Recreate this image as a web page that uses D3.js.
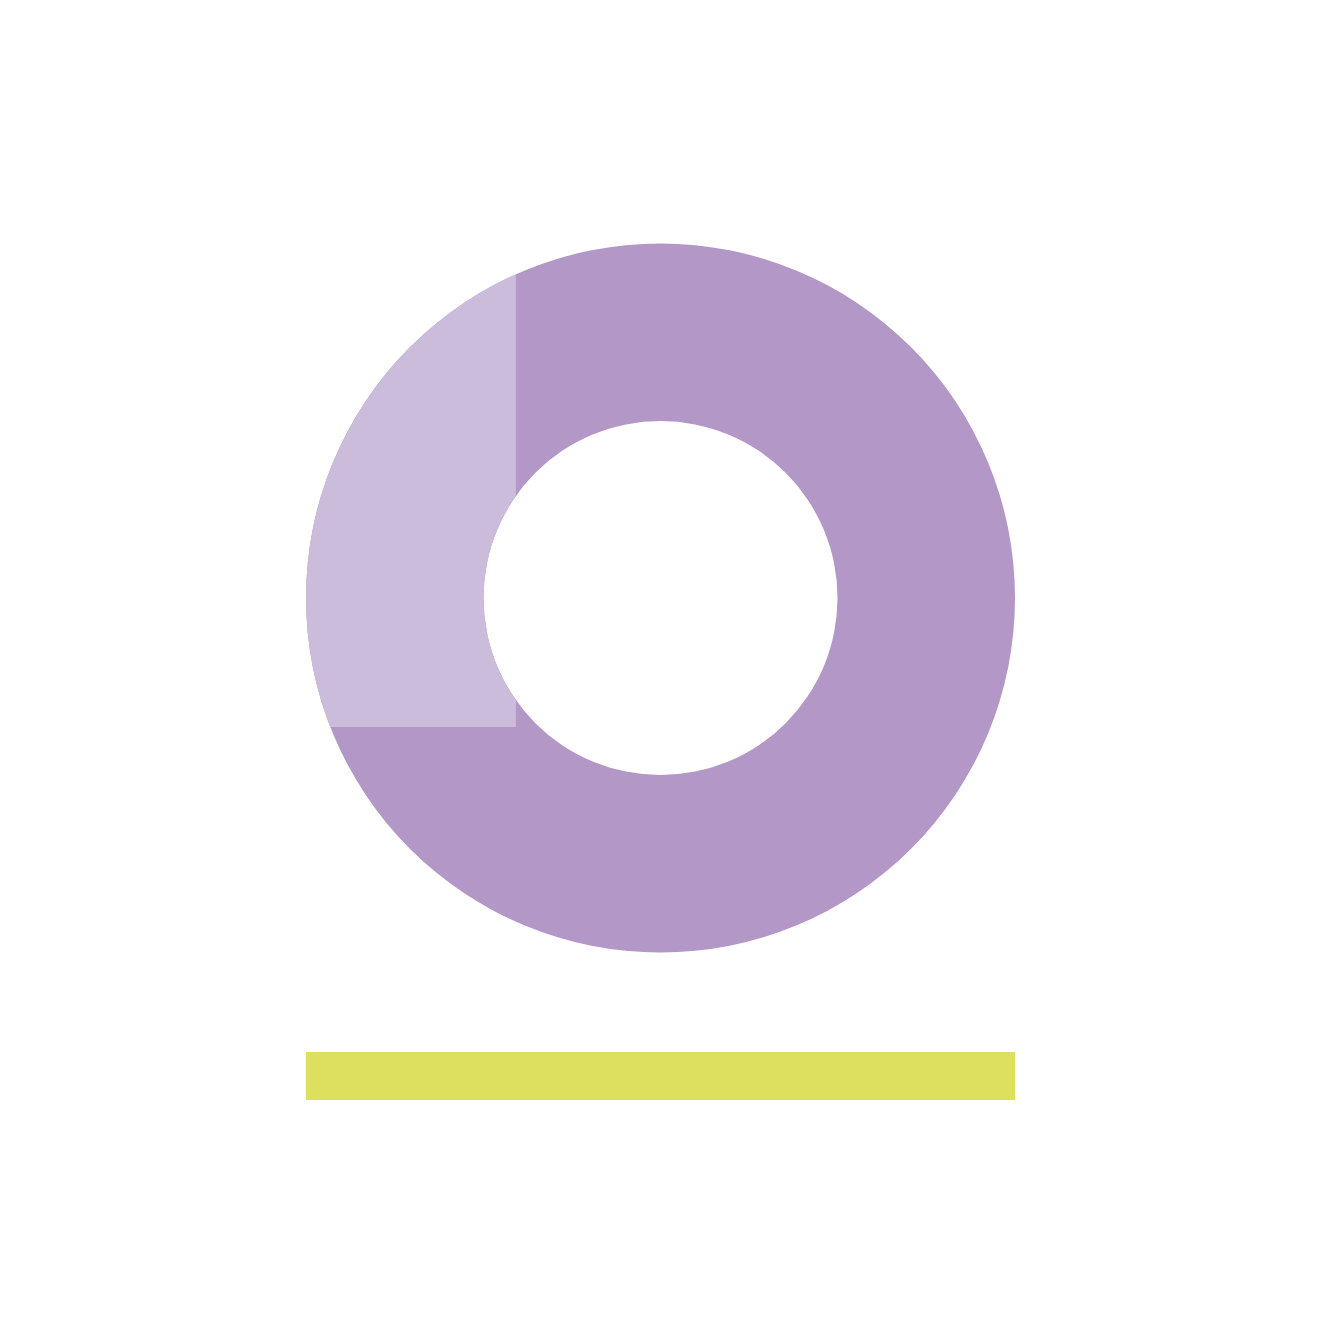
<!DOCTYPE html>
<html>
<head>
<meta charset="utf-8">
<script src="https://cdn.jsdelivr.net/npm/d3@7"></script>
<style>
  html, body { margin: 0; padding: 0; background: #fff; }
</style>
</head>
<body>
<div id="chart"></div>
<script>
// ring parts (share of the whole ring)
const ringNames = ["total"];
const ringValues = [100];

// highlighted corner, in percent of the ring's box (x from left, y from top)
const highlightX = [0, 29.6];
const highlightY = [0, 68.2];

// bar under the ring, in percent of the ring's width
const barValues = [100];

const colors = {
  ring: "#b297c7",
  highlight: "#cbbcdc",
  bar: "#dce05e",
};

const config = {
  width: 1335,
  height: 1335,
  cx: 660.5,
  cy: 598,
  outer: 354.5,
  inner: 177,
  barTop: 1052,
  barHeight: 48,
};

const svg = d3
  .select("#chart")
  .append("svg")
  .attr("width", config.width)
  .attr("height", config.height);

// scales over the ring's bounding box
const x = d3
  .scaleLinear()
  .domain([0, 100])
  .range([config.cx - config.outer, config.cx + config.outer]);
const y = d3
  .scaleLinear()
  .domain([0, 100])
  .range([config.cy - config.outer, config.cy + config.outer]);

const pie = d3.pie().sort(null).value((d) => d);
const arc = d3.arc().innerRadius(config.inner).outerRadius(config.outer);

// clip for the lighter part
svg
  .append("clipPath")
  .attr("id", "hl-clip")
  .append("rect")
  .attr("x", x(highlightX[0]))
  .attr("y", y(highlightY[0]))
  .attr("width", x(highlightX[1]) - x(highlightX[0]))
  .attr("height", y(highlightY[1]) - y(highlightY[0]));

const ring = svg
  .append("g")
  .attr("transform", `translate(${config.cx}, ${config.cy})`);

ring
  .selectAll("path.ring")
  .data(pie(ringValues))
  .join("path")
  .attr("class", "ring")
  .attr("d", arc)
  .attr("fill", colors.ring);

// same ring, lighter, only inside the corner rect
svg
  .append("g")
  .attr("clip-path", "url(#hl-clip)")
  .append("g")
  .attr("transform", `translate(${config.cx}, ${config.cy})`)
  .selectAll("path")
  .data(pie(ringValues))
  .join("path")
  .attr("d", arc)
  .attr("fill", colors.highlight);

// bar
svg
  .selectAll("rect.bar")
  .data(barValues)
  .join("rect")
  .attr("class", "bar")
  .attr("x", x(0))
  .attr("y", config.barTop)
  .attr("width", (d) => x(d) - x(0))
  .attr("height", config.barHeight)
  .attr("fill", colors.bar);
</script>
</body>
</html>
